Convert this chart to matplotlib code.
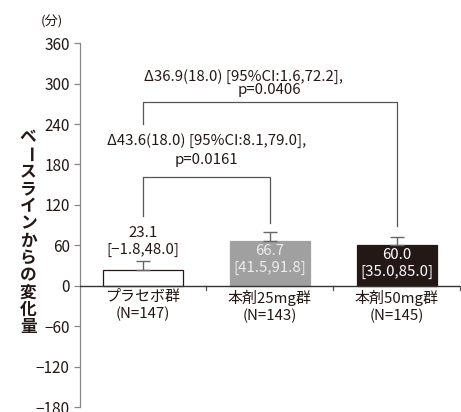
import numpy as np
import matplotlib.pyplot as plt

plt.rcParams['font.family'] = ['Noto Sans CJK JP', 'DejaVu Sans']

groups = ['プラセボ群\n(N=147)', '本剤25mg群\n(N=143)', '本剤50mg群\n(N=145)']
means = [23.1, 66.7, 60.0]
ci_low = [-1.8, 41.5, 35.0]
ci_high = [48.0, 91.8, 85.0]
se_up = [14.4, 13.3, 13.0]
yticks = [-180, -120, -60, 0, 60, 120, 180, 240, 300, 360]

cmp_texts = ['Δ43.6(18.0) [95%CI:8.1,79.0],', 'Δ36.9(18.0) [95%CI:1.6,72.2],']
cmp_p = ['p=0.0161', 'p=0.0406']
ylabel = 'ベースラインからの変化量'

ink = '#231815'
bar_fc = ['white', '#a0a0a0', ink]
bar_ec = [ink, '#a0a0a0', ink]
txt_c = [ink, '#ececec', 'white']
fs = 10.8

fig = plt.figure(figsize=(4.61, 4.12), dpi=100)
ax = fig.add_axes([0.1725, 0.011, 0.8255, 0.8846])

x = np.arange(len(groups))
ax.bar(x, means, width=0.63, color=bar_fc, edgecolor=bar_ec, linewidth=0.9, zorder=2)
for i in x:
    ax.errorbar(i, means[i], yerr=[[0], [se_up[i]]], fmt='none', ecolor='#666666',
                elinewidth=1.0, capsize=5, capthick=1.0, zorder=3)

# value labels
lbl = [f'{m:.1f}\n[{lo:.1f},{hi:.1f}]'.replace('-', '−') for m, lo, hi in zip(means, ci_low, ci_high)]
ax.text(0, means[0] + se_up[0] + 6, lbl[0], ha='center', va='bottom', fontsize=fs,
        color=ink, linespacing=1.2)
for i in (1, 2):
    ax.text(i, means[i] - 4, lbl[i], ha='center', va='top', fontsize=fs,
            color=txt_c[i], linespacing=1.25, zorder=4)

# comparison brackets
br_col = '#555555'
ax.plot([0, 0, 1, 1], [104, 162, 162, 93], color=br_col, lw=0.9)
ax.plot([0, 0, 2, 2], [240, 272, 272, 89], color=br_col, lw=0.9)
ax.text(0.5, 215, cmp_texts[0], ha='center', va='center', fontsize=fs, color=ink)
ax.text(0.5, 187, cmp_p[0], ha='center', va='center', fontsize=fs, color=ink)
ax.text(0.79, 311, cmp_texts[1], ha='center', va='center', fontsize=fs, color=ink)
ax.text(1.0, 291, cmp_p[1], ha='center', va='center', fontsize=fs, color=ink)

# zero line with category separators
ax.axhline(0, color='#333333', lw=1.0, zorder=4)
for b in [0.5, 1.5, 2.5]:
    ax.plot([b, b], [0, -6], color='#555555', lw=0.9, clip_on=False)
for i, g in enumerate(groups):
    ax.text(i, -6, g, ha='center', va='top', fontsize=fs, color=ink, linespacing=1.2)

ax.set_xlim(-0.5, 2.5)
ax.set_ylim(-180, 360)
ax.set_yticks(yticks)
ax.set_yticklabels([str(t).replace('-', '−') for t in yticks], fontsize=11, color=ink)
ax.set_xticks([])
ax.tick_params(axis='y', direction='out', length=4, width=0.9, color='#888888', pad=3)
for s in ['top', 'right', 'bottom']:
    ax.spines[s].set_visible(False)
ax.spines['left'].set_color('#888888')
ax.spines['left'].set_linewidth(0.9)

fig.text(0.113, 0.947, '(分)', ha='center', va='center', fontsize=9.5, color=ink)

# vertical y label, one character per line; the long-vowel mark is turned upright
step = 0.0475
top = 0.481 + step * (len(ylabel) - 1) / 2
for k, ch in enumerate(ylabel):
    ax.text(-0.135, top - k * step, ch, transform=ax.transAxes, ha='center', va='center',
            fontsize=12, fontweight='bold', color=ink,
            rotation=-90 if ch == 'ー' else 0)

fig.savefig('out.png', dpi=100)
